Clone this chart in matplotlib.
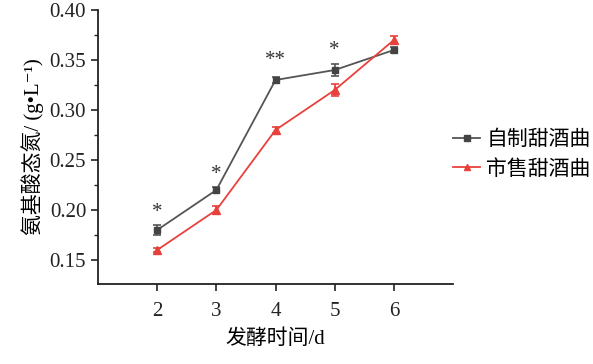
import matplotlib
matplotlib.use('Agg')
import matplotlib.pyplot as plt
from matplotlib.lines import Line2D
from matplotlib.ticker import MultipleLocator

plt.rcParams['font.family'] = ['Liberation Serif', 'Noto Sans CJK SC', 'DejaVu Serif']

# fermentation day
days = [2, 3, 4, 5, 6]

# amino acid nitrogen, g/L
homemade = [0.18, 0.22, 0.33, 0.34, 0.36]
homemade_err = [0.005, 0.003, 0.003, 0.006, 0.003]
commercial = [0.16, 0.20, 0.28, 0.32, 0.37]
commercial_err = [0.002, 0.004, 0.003, 0.006, 0.004]

# significance marks above homemade points
stars = ['*', '*', '**', '*', '']
star_y = [0.188, 0.226, 0.340, 0.350, 0.0]

series_names = ['自制甜酒曲', '市售甜酒曲']

fig = plt.figure(figsize=(5.93, 3.64), dpi=100)
ax = fig.add_axes([0.1653, 0.2198, 0.5987, 0.7527])

gray = '#555555'
red = '#e8413c'

ax.errorbar(days, homemade, yerr=homemade_err, color=gray, marker='s',
            markersize=5, markerfacecolor='#444444', markeredgecolor='#444444',
            linewidth=1.3, elinewidth=1.2, capsize=3, capthick=1.2)
ax.errorbar(days, commercial, yerr=commercial_err, color=red, marker='^',
            markersize=6, linewidth=1.3, elinewidth=1.2, capsize=3, capthick=1.2)

for x, s, y in zip(days, stars, star_y):
    if s:
        ax.text(x, y, s, ha='center', va='bottom', fontsize=15, color='#333333')

ax.set_xlim(1, 7)
ax.set_ylim(0.126, 0.40)
ax.set_xticks(days)
ax.yaxis.set_minor_locator(MultipleLocator(0.025))
ax.set_yticks([0.15, 0.20, 0.25, 0.30, 0.35, 0.40])
ax.set_yticklabels(['0.15', '0.20', '0.25', '0.30', '0.35', '0.40'])

for side in ['top', 'right']:
    ax.spines[side].set_visible(False)
for side in ['left', 'bottom']:
    ax.spines[side].set_linewidth(1.3)
    ax.spines[side].set_color('#222222')

ax.tick_params(axis='both', which='major', direction='out', length=5,
               width=1.2, labelsize=15, colors='#222222')
ax.tick_params(axis='y', which='minor', direction='out', length=3, width=1.0,
               colors='#222222')
ax.tick_params(axis='x', pad=8)

ax.set_xlabel('发酵时间/d', fontsize=15, labelpad=6)
ax.set_ylabel('氨基酸态氮/ (g•L⁻¹)', fontsize=15, labelpad=4)

handles = [
    Line2D([], [], color=gray, marker='s', markersize=4,
           markerfacecolor='#444444', markeredgecolor='#444444', linewidth=1.3),
    Line2D([], [], color=red, marker='^', markersize=5, linewidth=1.3),
]
ax.legend(handles, series_names, loc='center left',
          bbox_to_anchor=(1.0, 0.47), frameon=False,
          fontsize=15, handlelength=1.3, handletextpad=0.3, borderpad=0,
          borderaxespad=0, labelspacing=0.45)

fig.savefig('out.png', dpi=100)
